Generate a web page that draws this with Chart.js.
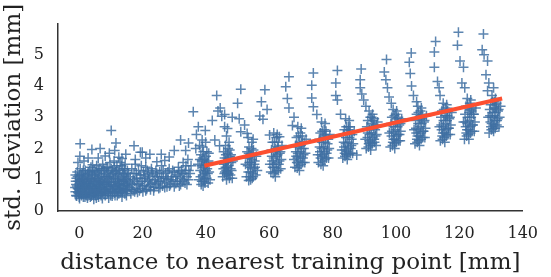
<!DOCTYPE html>
<html>
<head>
<meta charset="utf-8">
<script src="https://cdn.jsdelivr.net/npm/chart.js@4/dist/chart.umd.min.js"></script>
<style>
  html, body { margin: 0; padding: 0; background: #fff; }
</style>
</head>
<body>
<canvas id="spread" width="551" height="277"></canvas>
<script>
// [distance, std] pairs
const nearPts = [
    [-1.2,0.62],[-1.0,0.85],[-0.9,1.05],[-0.8,0.48],[-0.6,1.25],[-0.5,0.72],[-0.3,0.95],[-0.2,0.55],[0,1.15],[0.1,0.4],
    [0.2,0.8],[0.3,1.35],[0.4,0.65],[0.6,1.0],[0.7,0.5],[0.9,0.9],[1.0,1.2],[1.1,0.7],[1.3,0.45],[1.4,1.05],
    [1.6,0.6],[1.7,0.85],[1.9,1.3],[2.0,0.52],[2.2,0.95],[2.3,0.75],[2.5,1.1],[2.6,0.42],[2.8,0.65],[2.9,1.25],
    [3.1,0.88],[3.2,0.55],[3.4,1.0],[3.5,0.7],[3.7,1.4],[3.8,0.48],[4.0,0.82],[4.1,1.15],[4.3,0.6],[4.4,0.95],
    [4.6,0.38],[4.7,1.3],[4.9,0.72],[5.0,1.05],[5.2,0.5],[5.3,0.9],[5.5,1.45],[5.6,0.65],[5.8,1.2],[5.9,0.8],
    [6.1,0.45],[6.2,1.0],[6.4,0.7],[6.5,1.35],[6.7,0.55],[6.8,0.92],[7.0,1.15],[7.1,0.62],[7.3,0.4],[7.4,1.5],
    [7.6,0.85],[7.7,1.05],[7.9,0.68],[8.0,1.3],[8.2,0.5],[8.4,0.9],[8.6,1.2],[8.8,0.6],[9.0,1.4],[9.1,0.78],
    [9.3,0.42],[9.5,1.0],[9.7,1.55],[9.8,0.65],[10.0,1.15],[10.2,0.85],[10.4,0.48],[10.5,1.3],[10.7,0.7],[10.9,1.05],
    [11.0,1.6],[11.2,0.58],[11.4,0.92],[11.5,1.25],[11.7,0.75],[11.9,1.45],[12.0,0.5],[12.2,1.0],[12.4,0.68],[12.5,1.2],
    [12.7,0.88],[12.9,1.55],[13.0,0.6],[13.2,1.1],[13.4,0.8],[13.5,0.45],[13.7,1.35],[13.9,0.95],[14.0,0.7],[14.2,1.2],
    [14.4,0.55],[14.5,1.5],[14.7,0.85],[14.9,1.05],[15.0,0.65],[15.2,1.3],[15.4,0.9],
    [-1.1,0.95],[-0.4,0.6],[0.5,0.75],[1.2,0.95],[1.8,0.7],[2.4,0.6],[3.0,0.78],[3.6,0.9],[4.2,0.72],[4.8,0.58],
    [5.4,0.78],[6.0,0.95],[6.6,0.85],[7.2,0.75],[7.8,0.55],[8.5,0.7],[9.2,0.92],[9.9,0.8],[10.6,0.62],[11.3,0.8],
    [12.1,0.85],[12.8,0.72],[13.6,0.62],[14.3,0.95],[15.1,0.8],
    [-1.3,0.75],[-1.2,1.15],[-1.0,0.5],[-0.7,0.8],[-0.5,1.1],[-0.2,0.7],[0.0,0.45],[0.2,1.0],[0.4,0.9],[0.6,0.55],
    [0.8,1.15],[0.9,0.6],[1.1,0.85],[1.3,1.3],[1.5,0.75],[1.6,1.0],[1.8,0.45],[2.0,1.15],[2.1,0.8],[2.3,0.5],
    [2.5,0.9],[2.7,1.2],[2.8,0.5],[3.0,1.05],[3.2,0.7],[3.3,1.3],[3.5,0.45],[3.7,0.85],[3.9,1.05],[4.0,0.55],
    [4.2,1.25],[4.4,0.75],[4.5,0.5],[4.7,0.95],[4.9,1.15],[5.1,0.65],[5.3,1.25],[5.4,0.42],[5.6,0.95],[5.8,0.55],
    [6.0,1.3],[6.2,0.6],[6.3,0.85],[6.5,1.1],[6.7,0.75],[6.9,0.5],[7.1,1.3],[7.3,0.95],[7.5,0.65],[7.7,1.35],
    [7.9,0.9],[8.1,1.1],[8.3,0.62],[8.5,1.4],[8.7,0.85],[8.9,1.1],[9.1,0.55],[9.3,1.25],[9.5,0.72],[9.7,1.1],
    [9.9,0.5],[10.1,1.35],[10.3,0.95],[10.5,0.6],[10.7,1.2],[10.9,0.8],[11.1,1.4],[11.3,0.5],[11.5,1.05],[11.7,1.3],
    [11.9,0.65],[12.1,1.15],[12.3,0.88],[12.5,0.55],[12.7,1.3],[12.9,0.95],[13.1,0.72],[13.3,1.45],[13.5,1.0],[13.7,0.6],
    [13.9,1.2],[14.1,0.82],[14.3,1.35],[14.5,0.68],[14.7,1.15],[14.9,0.5],[15.1,1.0],[15.3,0.7],[15.5,1.2]
];
const nearHigh = [
    [0.3,2.15],[0.2,1.75],[-0.4,1.55],[1.5,1.6],[4.0,1.97],[4.2,1.48],[2.8,1.7],[6.6,2.0],[6.0,1.7],[8.2,1.76],
    [10.1,2.58],[11.6,2.18],[11.2,1.94],[14.7,1.82],[12.5,1.72],[9.5,1.85],[13.5,1.68]
];
const midPts = [
    [15.8,0.75],[16.1,1.1],[16.3,0.55],[16.6,1.35],[16.8,0.85],[17.0,0.65],[17.3,1.2],[17.5,0.95],[17.7,1.5],[18.0,0.7],
    [18.2,1.05],[18.4,0.6],[18.7,1.3],[18.9,0.88],[19.2,1.15],[19.4,0.72],[19.6,1.45],[19.9,0.95],[20.1,0.62],[20.3,1.25],
    [20.6,0.82],[20.8,1.05],[21.0,1.4],[21.3,0.7],[21.5,0.95],[21.8,1.2],[22.0,0.78],[22.3,1.1],[22.5,0.68],[22.8,1.35],
    [23.0,0.9],[23.3,1.15],[23.6,0.75],[23.9,1.0],[24.2,1.3],[24.5,0.85],[24.8,1.1],[25.1,0.72],[25.4,1.25],[25.7,0.95],
    [26.0,1.45],[26.3,0.8],[26.6,1.05],[27.0,0.9],[27.3,1.2],[27.7,0.78],[28.0,1.0],[28.4,1.35],[28.8,0.85],[29.2,1.1],
    [29.6,0.95],[30.0,1.25],[30.5,0.88],[31.0,1.15],[31.3,1.4],[31.6,0.8],[31.9,1.05],[32.2,1.3],[32.5,0.95],[32.8,1.55],
    [33.1,1.2],[33.4,0.9],[33.7,1.45],[34.0,1.1],[34.3,1.65],[34.6,1.3],
    [16.0,0.9],[16.5,0.7],[17.0,1.0],[17.5,0.62],[18.0,1.2],[18.5,0.85],[19.0,0.65],[19.5,1.05],[20.0,0.8],[20.5,1.15],
    [21.0,0.65],[21.5,1.3],[22.0,1.0],[22.5,0.85],[23.0,1.25],[23.5,0.65],[24.0,0.9],[24.5,1.2],[25.0,0.95],[25.5,0.75],
    [26.0,1.1],[26.5,1.3],[27.0,0.75],[27.5,1.05],[28.0,1.25],[28.5,0.8],[29.0,1.0],[29.5,1.3],[30.0,0.78],[30.5,1.1],
    [31.0,0.95],[31.5,1.25],[32.0,0.85],[32.5,1.2],[33.0,1.0],[33.5,1.3],[34.0,0.85],[34.5,1.0],[35.0,1.2],[35.3,1.45]
];
const midHigh = [
    [17.3,2.09],[19.9,1.88],[17.7,1.65],[19.3,1.88],[22.3,1.82],[24.5,1.58],[25.9,1.82],[28.4,1.73],[30.0,1.94],[32.0,2.27],
    [33.6,1.94],[34.5,2.18],[21.0,1.7],[27.0,1.62],[36.0,3.18]
];
// dense clusters of the columns beyond 35 mm
const colPts = [
    [37.8,1.0],[38.2,1.3],[38.5,0.85],[38.7,1.6],[39.0,1.15],[39.2,1.9],[39.4,0.95],[39.6,1.45],[39.8,1.2],[40.0,1.75],
    [40.2,1.05],[40.4,1.35],[40.7,0.9],[38.9,2.05],[39.5,1.65],[40.5,1.55],[38.4,1.8],[41.0,1.25],[39.1,0.8],[39.9,2.2],
    [37.5,1.5],[41.3,1.0],[38.0,2.1],[40.9,1.85],
    [38.3,1.1],[38.6,1.45],[39.0,1.7],[39.3,1.25],[39.7,0.9],[40.1,1.5],[40.3,1.9],[40.6,1.2],[38.1,1.65],[39.5,1.05],
    [40.8,1.6],[39.2,1.4],[38.7,0.95],[40.0,1.3],
    [45.3,1.1],[45.7,1.5],[46.0,1.25],[46.3,1.8],[46.5,1.0],[46.7,1.4],[47.0,1.65],[47.2,1.2],[47.5,1.95],[47.8,1.35],
    [48.0,1.55],[46.2,2.1],[47.3,2.2],[45.9,1.7],[48.3,1.05],[46.9,1.85],[47.7,1.15],[45.5,1.35],[48.5,1.6],[46.4,1.55],
    [45.8,1.2],[46.1,1.55],[46.4,1.3],[46.8,1.7],[47.1,1.45],[47.4,1.05],[47.6,1.75],[46.6,1.15],[45.6,1.9],[48.1,1.3],
    [47.0,2.0],[46.2,1.4],[47.9,1.8],[46.9,1.25],
    [52.8,1.1],[53.2,1.45],[53.5,0.98],[53.8,1.7],[54.0,1.25],[54.3,1.55],[54.6,1.05],[54.8,1.85],[55.1,1.35],[55.4,1.6],
    [53.6,2.05],[54.5,2.2],[55.7,1.15],[53.0,1.9],[54.1,1.0],[55.9,1.75],[52.5,1.5],[56.2,1.3],[54.9,2.3],[53.3,2.35],
    [53.4,1.25],[53.7,1.55],[54.0,1.8],[54.2,1.4],[54.5,1.65],[54.7,1.2],[55.0,1.95],[55.3,1.5],[53.9,1.1],[54.4,2.0],
    [55.5,1.4],[53.1,1.7],[54.9,1.1],[53.5,1.85],
    [60.5,1.25],[60.9,1.6],[61.2,1.2],[61.5,1.9],[61.8,1.4],[62.1,1.75],[62.4,1.3],[62.7,2.05],[63.0,1.5],[63.3,1.85],
    [61.0,2.2],[62.2,2.35],[63.6,1.35],[60.7,1.95],[61.9,1.1],[63.8,1.65],[60.2,1.5],[64.0,2.1],[62.5,2.45],[61.4,2.5],
    [61.1,1.4],[61.4,1.7],[61.7,1.25],[62.0,2.0],[62.3,1.55],[62.6,1.8],[62.9,1.3],[61.6,2.2],[62.8,2.2],[60.8,1.75],
    [63.2,1.6],[61.3,1.5],[62.4,1.95],[63.5,1.9],
    [68.1,1.4],[68.5,1.75],[68.8,1.38],[69.1,2.05],[69.4,1.6],[69.7,1.9],[70.0,1.5],[70.3,2.2],[70.6,1.7],[70.9,2.0],
    [68.6,2.35],[69.8,2.5],[71.2,1.55],[68.3,2.1],[69.5,1.3],[71.4,1.85],[67.8,1.65],[71.6,2.3],[70.1,2.65],[69.0,2.7],
    [68.7,1.55],[69.0,1.85],[69.3,1.45],[69.6,2.2],[69.9,1.75],[70.2,2.0],[70.5,1.55],[69.2,2.4],[70.4,2.4],[68.4,1.9],
    [70.8,1.8],[68.9,1.7],[70.0,2.1],[71.0,2.2],
    [75.5,1.55],[76.0,1.9],[76.3,1.5],[76.6,2.2],[76.9,1.75],[77.2,2.05],[77.5,1.65],[77.8,2.4],[78.1,1.85],[78.4,2.15],
    [76.1,2.5],[77.3,2.6],[78.7,1.7],[75.8,2.3],[77.0,1.45],[78.9,2.0],[75.3,1.8],[79.1,2.45],[77.6,2.8],[76.5,2.85],
    [76.2,1.7],[76.5,2.0],[76.8,1.6],[77.1,2.35],[77.4,1.9],[77.7,2.2],[78.0,1.7],[76.7,2.55],[77.9,2.55],[75.9,2.05],
    [78.3,1.95],[76.4,1.8],[77.5,2.45],[78.6,2.3],
    [83.2,1.7],[83.6,2.05],[83.9,1.75],[84.2,2.35],[84.5,1.9],[84.8,2.2],[85.1,1.8],[85.4,2.5],[85.7,2.0],[86.0,2.3],
    [83.7,2.6],[84.9,2.7],[86.3,1.85],[83.4,2.45],[84.6,1.65],[86.5,2.15],[82.9,1.95],[86.8,2.55],[85.2,2.9],[84.1,2.95],
    [87.6,1.79],
    [83.8,1.85],[84.1,2.15],[84.4,1.8],[84.7,2.5],[85.0,2.05],[85.3,2.35],[85.6,1.85],[84.3,2.7],[85.5,2.7],[83.5,2.2],
    [85.9,2.1],[84.0,1.95],[85.1,2.6],[86.2,2.45],
    [90.6,2.0],[91.0,2.35],[91.3,2.05],[91.6,2.6],[91.9,2.2],[92.2,2.5],[92.5,2.15],[92.8,2.75],[93.1,2.3],[93.4,2.6],
    [91.1,2.9],[92.3,3.0],[93.7,2.1],[90.8,2.7],[92.0,1.95],[93.9,2.45],[90.3,2.3],[94.2,2.85],[92.6,3.1],[91.5,3.2],
    [91.4,2.15],[91.7,2.45],[92.0,2.1],[92.3,2.8],[92.6,2.35],[92.9,2.65],[93.2,2.2],[91.9,3.0],[93.1,2.95],[91.1,2.5],
    [93.5,2.4],[91.6,2.25],[92.7,2.9],[93.8,2.75],
    [98.2,2.05],[98.6,2.4],[98.9,2.1],[99.2,2.7],[99.5,2.3],[99.8,2.6],[100.1,2.2],[100.4,2.85],[100.7,2.45],[101.0,2.75],
    [98.7,3.0],[99.9,3.1],[101.3,2.25],[98.4,2.8],[99.6,2.0],[101.5,2.55],[97.9,2.5],[101.8,2.95],[100.2,3.2],[99.1,3.25],
    [99.0,2.2],[99.3,2.5],[99.6,2.15],[99.9,2.85],[100.2,2.4],[100.5,2.7],[100.8,2.25],[99.5,3.05],[100.7,3.0],[98.7,2.55],
    [101.1,2.45],[99.2,2.3],[100.3,2.95],[101.4,2.8],
    [106.0,2.15],[106.4,2.5],[106.7,2.2],[107.0,2.8],[107.3,2.4],[107.6,2.7],[107.9,2.3],[108.2,2.95],[108.5,2.55],[108.8,2.85],
    [106.5,3.1],[107.7,3.2],[109.1,2.35],[106.2,2.9],[107.4,2.1],[109.3,2.65],[105.7,2.6],[109.6,3.05],[108.0,3.3],[106.9,3.35],
    [106.6,2.3],[106.9,2.6],[107.2,2.25],[107.5,2.95],[107.8,2.5],[108.1,2.8],[108.4,2.35],[107.1,3.15],[108.3,3.1],[106.3,2.65],
    [108.7,2.55],[106.8,2.4],[107.9,3.05],[109.0,2.9],
    [114.0,2.25],[114.4,2.6],[114.7,2.3],[115.0,2.9],[115.3,2.5],[115.6,2.8],[115.9,2.4],[116.2,3.05],[116.5,2.65],[116.8,2.95],
    [114.5,3.2],[115.7,3.3],[117.1,2.45],[114.2,3.0],[115.4,2.2],[117.3,2.75],[113.7,2.7],[117.6,3.15],[116.0,3.4],[114.9,3.45],
    [114.6,2.4],[114.9,2.7],[115.2,2.35],[115.5,3.05],[115.8,2.6],[116.1,2.9],[116.4,2.45],[115.1,3.25],[116.3,3.2],[114.3,2.75],
    [116.7,2.65],[114.8,2.5],[115.9,3.15],[117.0,3.0],
    [121.6,2.3],[122.0,2.7],[122.3,2.4],[122.6,3.0],[122.9,2.6],[123.2,2.9],[123.5,2.5],[123.8,3.2],[124.1,2.75],[124.4,3.1],
    [122.1,3.35],[123.3,3.45],[124.7,2.55],[121.8,3.1],[123.0,2.3],[124.9,2.85],[121.3,2.85],[125.2,3.3],[123.6,3.55],[122.5,3.6],
    [122.2,2.5],[122.5,2.8],[122.8,2.45],[123.1,3.15],[123.4,2.7],[123.7,3.0],[124.0,2.55],[122.7,3.35],[123.9,3.3],[121.9,2.85],
    [124.3,2.75],[122.4,2.6],[123.5,3.25],[124.6,3.1],
    [129.4,2.5],[129.8,2.85],[130.1,2.6],[130.4,3.15],[130.7,2.75],[131.0,3.05],[131.3,2.65],[131.6,3.3],[131.9,2.9],[132.2,3.2],
    [129.9,3.4],[131.1,3.5],[132.5,2.7],[129.6,3.25],[130.8,2.55],[132.7,3.0],[129.1,3.0],[133.0,3.35],[131.4,3.6],[130.3,3.7],
    [130.0,2.7],[130.3,3.0],[130.6,2.65],[130.9,3.3],[131.2,2.9],[131.5,3.15],[131.8,2.75],[130.5,3.5],[131.7,3.45],[129.7,3.05],
    [132.1,2.95],[130.2,2.8],[131.3,3.4],[132.4,3.25]
];
// sparse upper tails of the columns
const tailPts = [
    [37.6,2.7],[38.8,2.27],[39.8,2.58],[37.0,2.45],[36.8,2.0],
    [42.0,2.9],[45.0,3.03],[45.9,2.7],[46.5,2.4],[42.8,2.27],[44.3,2.09],[45.9,3.09],[46.8,2.64],[43.8,3.2],[43.4,3.7],[44.5,3.3],
    [51.0,3.9],[50.0,3.45],[48.3,3.0],[51.0,2.54],[53.0,2.48],[52.2,2.75],[50.5,2.95],
    [58.6,3.88],[57.5,3.5],[57.0,3.04],[58.0,2.94],[60.1,2.43],[63.2,2.38],[59.3,3.25],
    [66.2,4.3],[65.2,3.98],[65.7,3.6],[66.2,3.3],[67.3,2.74],[67.8,3.0],
    [73.9,4.42],[73.4,4.03],[73.4,3.62],[73.9,3.34],[75.0,3.09],
    [81.5,4.5],[81.0,4.1],[81.0,3.7],[81.5,3.55],[82.5,3.1],
    [89.0,4.55],[88.7,4.2],[88.7,3.95],[89.2,3.75],[89.8,3.55],[90.5,3.35],
    [97.0,4.85],[96.3,4.45],[96.8,4.2],[97.3,3.95],[97.8,3.65],[98.5,3.45],
    [104.8,5.06],[104.2,4.76],[104.5,4.4],[104.9,4.0],[105.5,3.7],[106.5,3.5],
    [112.5,5.43],[112.1,5.09],[112.1,4.6],[113.1,4.15],[113.6,3.95],[113.9,3.7],
    [119.7,5.72],[119.4,5.31],[120.2,4.8],[121.3,4.6],[120.8,4.1],[121.7,3.95],
    [127.6,5.67],[127.2,5.16],[127.8,5.0],[128.9,4.8],[128.4,4.36],[129.3,4.1],[130.8,3.95],[128.9,3.85]
];
const fitX = [39.5, 133.5];
const fitY = [1.45, 3.6];
const xTicks = [0, 20, 40, 60, 80, 100, 120, 140];
const yTicks = [0, 1, 2, 3, 4, 5];

const allPts = nearPts.concat(nearHigh, midPts, midHigh, colPts, tailPts)
    .map(p => ({ x: p[0], y: p[1] }));
const fitLine = fitX.map((x, i) => ({ x: x, y: fitY[i] }));

const serif = "'DejaVu Serif', serif";
const canvas = document.getElementById("spread");
const chart = new Chart(canvas, {
    type: "scatter",
    data: {
        datasets: [{
            type: "line",
            data: fitLine,
            borderColor: "#fc4f30",
            borderWidth: 4,
            pointRadius: 0,
            fill: false,
            order: 0
        }, {
            data: allPts,
            pointStyle: "cross",
            pointRadius: 5,
            borderWidth: 1.5,
            borderColor: "rgba(64, 112, 162, 0.85)",
            backgroundColor: "rgba(64, 112, 162, 0.85)",
            order: 1
        }]
    },
    options: {
        responsive: false,
        animation: false,
        devicePixelRatio: 1,
        layout: { padding: { top: 13, right: 14, left: 0, bottom: 0 } },
        plugins: { legend: { display: false }, tooltip: { enabled: false } },
        scales: {
            x: {
                type: "linear",
                min: -6.7,
                max: 140,
                afterBuildTicks: s => { s.ticks = xTicks.map(v => ({ value: v })); },
                afterFit: s => { s.height = 66; },
                grid: { display: false, drawTicks: false },
                border: { display: true, color: "#333", width: 1.5 },
                ticks: { padding: 13, color: "#222", font: { family: serif, size: 16 } },
                title: {
                    display: true,
                    text: "distance to nearest training point [mm]",
                    color: "#222",
                    font: { family: serif, size: 23 },
                    padding: { top: 0, bottom: 0 }
                }
            },
            y: {
                min: 0,
                max: 6,
                afterBuildTicks: s => { s.ticks = yTicks.map(v => ({ value: v })); },
                afterFit: s => { s.width = 58; },
                grid: { display: false, drawTicks: false },
                border: { display: true, color: "#333", width: 1.5 },
                ticks: { padding: 14, color: "#222", font: { family: serif, size: 16 } },
                title: {
                    display: true,
                    text: "std. deviation [mm]",
                    color: "#222",
                    font: { family: serif, size: 23 },
                    padding: { top: 0, bottom: 0 }
                }
            }
        }
    }
});
</script>
</body>
</html>
